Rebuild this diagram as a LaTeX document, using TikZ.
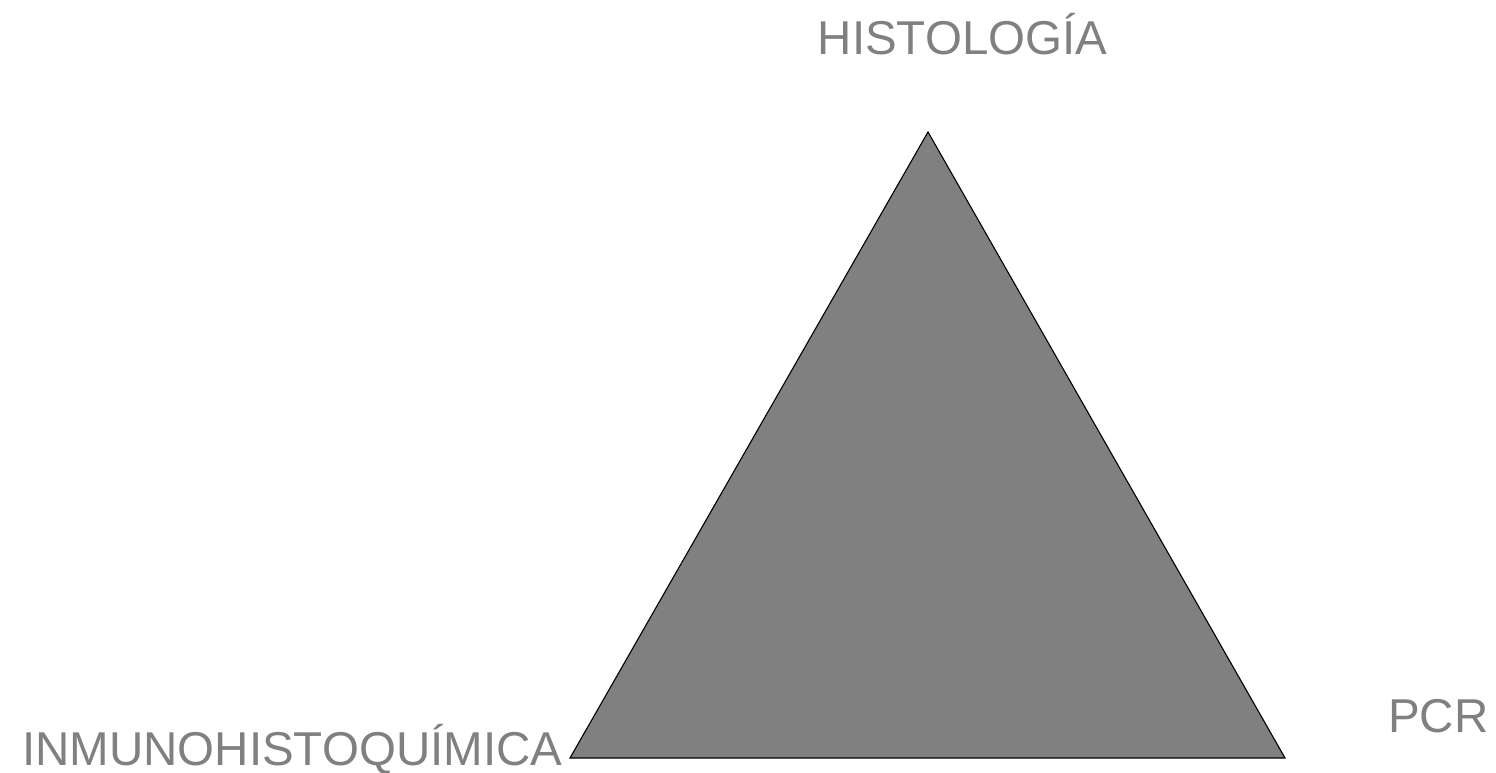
\documentclass[tikz,border=0pt]{standalone}
\usepackage{fontspec}
\setmainfont{Liberation Sans}
\usepackage{tikz}
\usetikzlibrary{positioning}
\definecolor{trigray}{HTML}{808080}
\definecolor{txtgray}{HTML}{808080}
\tikzset{
  tri/.style={draw=black, line width=1.1pt, fill=trigray, line join=miter},
  lab/.style={inner sep=0pt, text=txtgray, font=\fontsize{47.5}{50}\selectfont},
}
\begin{document}
\begin{tikzpicture}[x=1pt,y=-1pt]
  \useasboundingbox (0,0) rectangle (1496,773);
  % vertices of the triangle
  \coordinate (top) at (928,132);
  \coordinate (bl) at (570,758);
  \coordinate (br) at (1285,758);
  \filldraw[tri] (top) -- (bl) -- (br) -- cycle;
  % labels
  \node[lab, anchor=base] (histo) at (962.5,55) {HISTOLOGÍA};
  \node[lab, anchor=base west] (inmuno) at (22,765) {INMUNOHISTOQUÍMICA};
  \node[lab, anchor=base west] (pcr) at (1388,732) {PCR};
\end{tikzpicture}
\end{document}
